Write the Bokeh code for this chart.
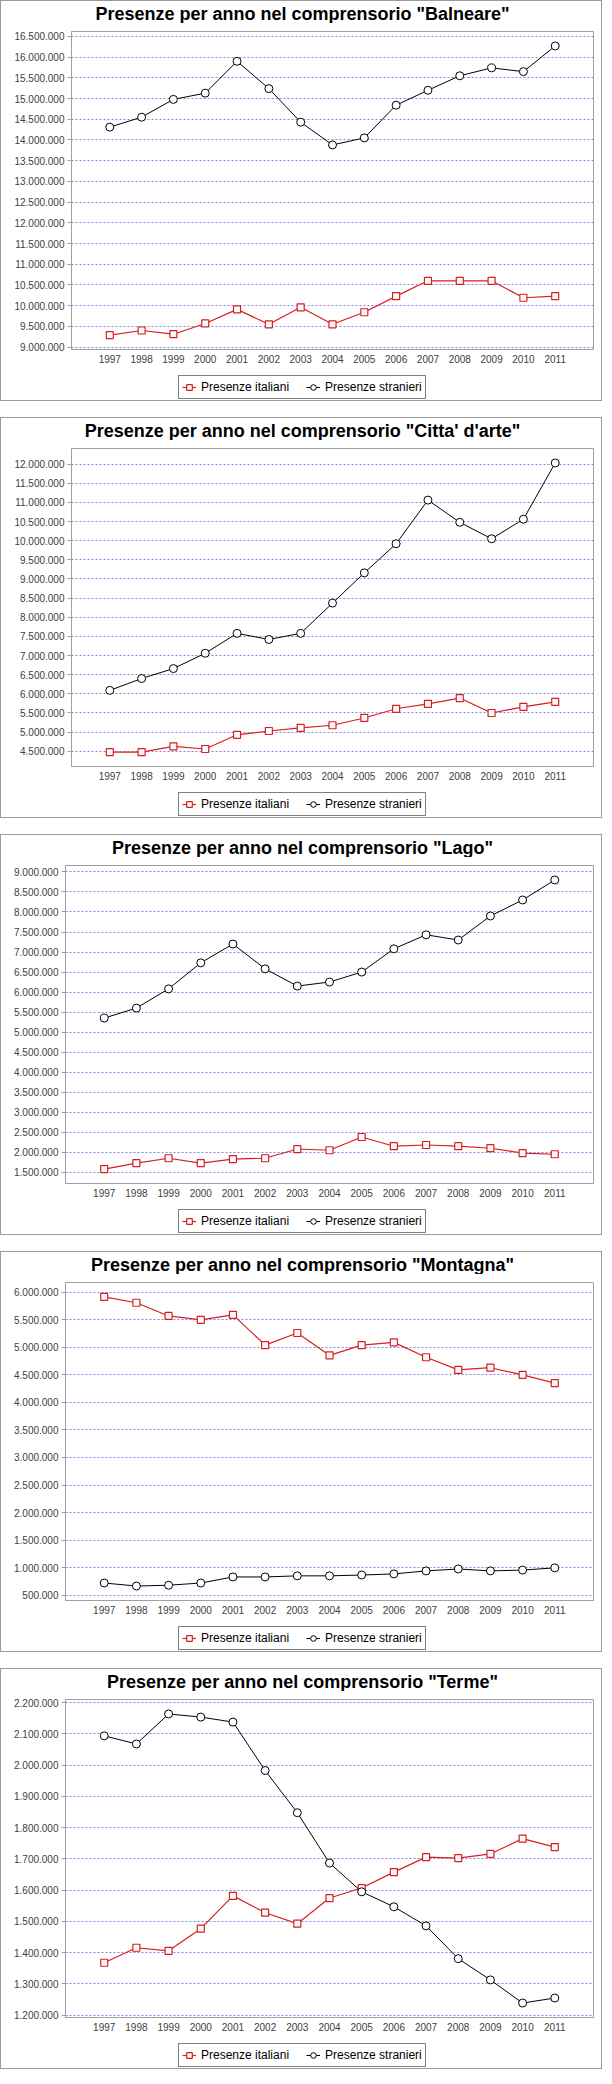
from bokeh.plotting import figure
from bokeh.models import (Range1d, FactorRange, FixedTicker, Legend, LegendItem,
                          Label, ColumnDataSource)
from bokeh.layouts import column
from bokeh.embed import file_html
from bokeh.resources import INLINE

# ---------------- data ----------------
years = ["1997", "1998", "1999", "2000", "2001", "2002", "2003", "2004",
         "2005", "2006", "2007", "2008", "2009", "2010", "2011"]

series_labels = ["Presenze italiani", "Presenze stranieri"]

balneare_italiani = [9290000, 9400000, 9310000, 9570000, 9910000, 9550000, 9960000, 9550000,
                     9840000, 10230000, 10600000, 10600000, 10600000, 10190000, 10230000]
balneare_stranieri = [14310000, 14550000, 14980000, 15130000, 15900000, 15240000, 14430000, 13880000,
                      14050000, 14840000, 15200000, 15550000, 15740000, 15650000, 16270000]

arte_italiani = [4480000, 4480000, 4630000, 4560000, 4930000, 5030000, 5110000, 5180000,
                 5370000, 5610000, 5740000, 5890000, 5500000, 5660000, 5790000]
arte_stranieri = [6090000, 6400000, 6660000, 7060000, 7580000, 7420000, 7580000, 8370000,
                  9160000, 9920000, 11060000, 10480000, 10050000, 10560000, 12030000]

lago_italiani = [1580000, 1730000, 1850000, 1730000, 1830000, 1850000, 2080000, 2050000,
                 2380000, 2150000, 2180000, 2150000, 2100000, 1980000, 1950000]
lago_stranieri = [5350000, 5600000, 6080000, 6730000, 7200000, 6580000, 6150000, 6250000,
                  6500000, 7080000, 7430000, 7300000, 7900000, 8300000, 8800000]

montagna_italiani = [5915000, 5810000, 5570000, 5500000, 5590000, 5040000, 5260000, 4855000,
                     5040000, 5090000, 4820000, 4590000, 4630000, 4500000, 4350000]
montagna_stranieri = [720000, 665000, 680000, 720000, 830000, 830000, 850000, 850000,
                      865000, 885000, 940000, 975000, 940000, 955000, 995000]

terme_italiani = [1368000, 1416000, 1406000, 1477000, 1582000, 1528000, 1493000, 1575000,
                  1607000, 1658000, 1706000, 1703000, 1716000, 1765000, 1738000]
terme_stranieri = [2094000, 2068000, 2164000, 2154000, 2138000, 1983000, 1848000, 1687000,
                   1595000, 1547000, 1486000, 1381000, 1313000, 1239000, 1255000]

balneare_ticks = list(range(9000000, 16500001, 500000))
arte_ticks = list(range(4500000, 12000001, 500000))
lago_ticks = list(range(1500000, 9000001, 500000))
montagna_ticks = list(range(500000, 6000001, 500000))
terme_ticks = list(range(1200000, 2200001, 100000))

titles = ['Presenze per anno nel comprensorio "Balneare"',
          'Presenze per anno nel comprensorio "Citta\' d\'arte"',
          'Presenze per anno nel comprensorio "Lago"',
          'Presenze per anno nel comprensorio "Montagna"',
          'Presenze per anno nel comprensorio "Terme"']

# ---------------- style ----------------
FONT = "Liberation Sans"
W = 600
TITLE_H, MAIN_H, LEG_FIG_H = 22, 346, 31
MAIN_TOP, MAIN_BOTTOM, RIGHT = 8, 20, 8
RED = "#d81e1e"
GRID = "#8585e0"
FRAME = "#a0a0a0"
LEG_W, LEG_H = 246, 22


def it_fmt(v):
    return f"{v:,}".replace(",", ".")


def blank_fig(h):
    f = figure(width=W, height=h, output_backend="svg", toolbar_location=None,
               title=None, frame_align=False,
               x_range=Range1d(0, W), y_range=Range1d(0, h),
               x_axis_location=None, y_axis_location=None,
               min_border=0, min_border_left=0, min_border_right=0,
               min_border_top=0, min_border_bottom=0,
               background_fill_color="white", border_fill_color="white",
               outline_line_color=None)
    f.grid.visible = False
    return f


def make_panel(title, ital, stran, ticks, left):
    # ---- title strip ----
    t = blank_fig(TITLE_H)
    t.add_layout(Label(x=W / 2 + 1, y=TITLE_H - 12.7, text=title,
                       text_align="center", text_baseline="middle",
                       text_font=FONT, text_font_size="18px",
                       text_font_style="bold", text_color="black"))

    # ---- chart ----
    lo, hi = min(ital + stran), max(ital + stran)
    span = hi - lo
    p = figure(width=W, height=MAIN_H, output_backend="svg", toolbar_location=None,
               title=None, frame_align=False,
               x_range=FactorRange(factors=years, range_padding=0.7031,
                                   range_padding_units="absolute"),
               y_range=Range1d(lo - 0.05 * span, hi + 0.05 * span),
               min_border_left=left, min_border_right=RIGHT,
               min_border_top=MAIN_TOP, min_border_bottom=MAIN_BOTTOM,
               background_fill_color="white", border_fill_color="white",
               outline_line_color=FRAME, outline_line_width=1)

    src = ColumnDataSource(dict(year=years, ital=ital, stran=stran))
    p.line("year", "ital", source=src, line_color=RED, line_width=1.2)
    p.scatter("year", "ital", source=src, marker="square", size=7,
              line_color=RED, fill_color="white", line_width=1.2)
    p.line("year", "stran", source=src, line_color="black", line_width=1)
    p.scatter("year", "stran", source=src, marker="circle", size=8,
              line_color="black", fill_color="white", line_width=1)

    for ax in (p.xaxis[0], p.yaxis[0]):
        ax.axis_line_color = FRAME
        ax.major_label_text_font = FONT
        ax.major_label_text_font_size = "10px"
        ax.major_label_text_color = "#404040"
        ax.minor_tick_line_color = None
    p.xaxis.major_tick_out = 0
    p.xaxis.major_tick_in = 0
    p.xaxis.major_label_standoff = 5
    p.yaxis.ticker = FixedTicker(ticks=ticks, minor_ticks=[])
    p.yaxis.major_label_overrides = {tk: it_fmt(tk) for tk in ticks}
    p.yaxis.major_tick_out = 4
    p.yaxis.major_tick_in = 0
    p.yaxis.major_tick_line_color = FRAME
    p.yaxis.major_label_standoff = 3

    p.xgrid.visible = False
    p.ygrid.grid_line_color = GRID
    p.ygrid.grid_line_dash = "2 2"
    p.ygrid.grid_line_width = 1

    # ---- legend strip (proxy renderers placed outside the visible range) ----
    lg = blank_fig(LEG_FIG_H)
    e = ColumnDataSource(dict(x=[-50, -40], y=[-50, -50]))
    l1 = lg.line("x", "y", source=e, line_color=RED, line_width=1.2)
    m1 = lg.scatter("x", "y", source=e, marker="square", size=7,
                    line_color=RED, fill_color="white", line_width=1.2)
    l2 = lg.line("x", "y", source=e, line_color="black", line_width=1)
    m2 = lg.scatter("x", "y", source=e, marker="circle", size=8,
                    line_color="black", fill_color="white", line_width=1)
    legend = Legend(items=[LegendItem(label=series_labels[0], renderers=[l1, m1]),
                           LegendItem(label=series_labels[1], renderers=[l2, m2])],
                    orientation="horizontal",
                    location=(W / 2 - LEG_W / 2, LEG_FIG_H - 7.7 - LEG_H),
                    margin=0, padding=3, spacing=17, glyph_width=14, glyph_height=16,
                    label_height=16, label_standoff=5,
                    label_text_font=FONT, label_text_font_size="12px",
                    label_text_color="black", border_line_color="black",
                    border_line_width=1, background_fill_color="white",
                    background_fill_alpha=1)
    lg.add_layout(legend, "center")

    return column(t, p, lg, spacing=0, styles={"border": "1px solid #9a9a9a"})


panels = [
    make_panel(titles[0], balneare_italiani, balneare_stranieri, balneare_ticks, 70),
    make_panel(titles[1], arte_italiani, arte_stranieri, arte_ticks, 70),
    make_panel(titles[2], lago_italiani, lago_stranieri, lago_ticks, 64),
    make_panel(titles[3], montagna_italiani, montagna_stranieri, montagna_ticks, 64),
    make_panel(titles[4], terme_italiani, terme_stranieri, terme_ticks, 64),
]

layout = column(*panels, spacing=16)
open("out.html", "w").write(file_html(layout, INLINE))
